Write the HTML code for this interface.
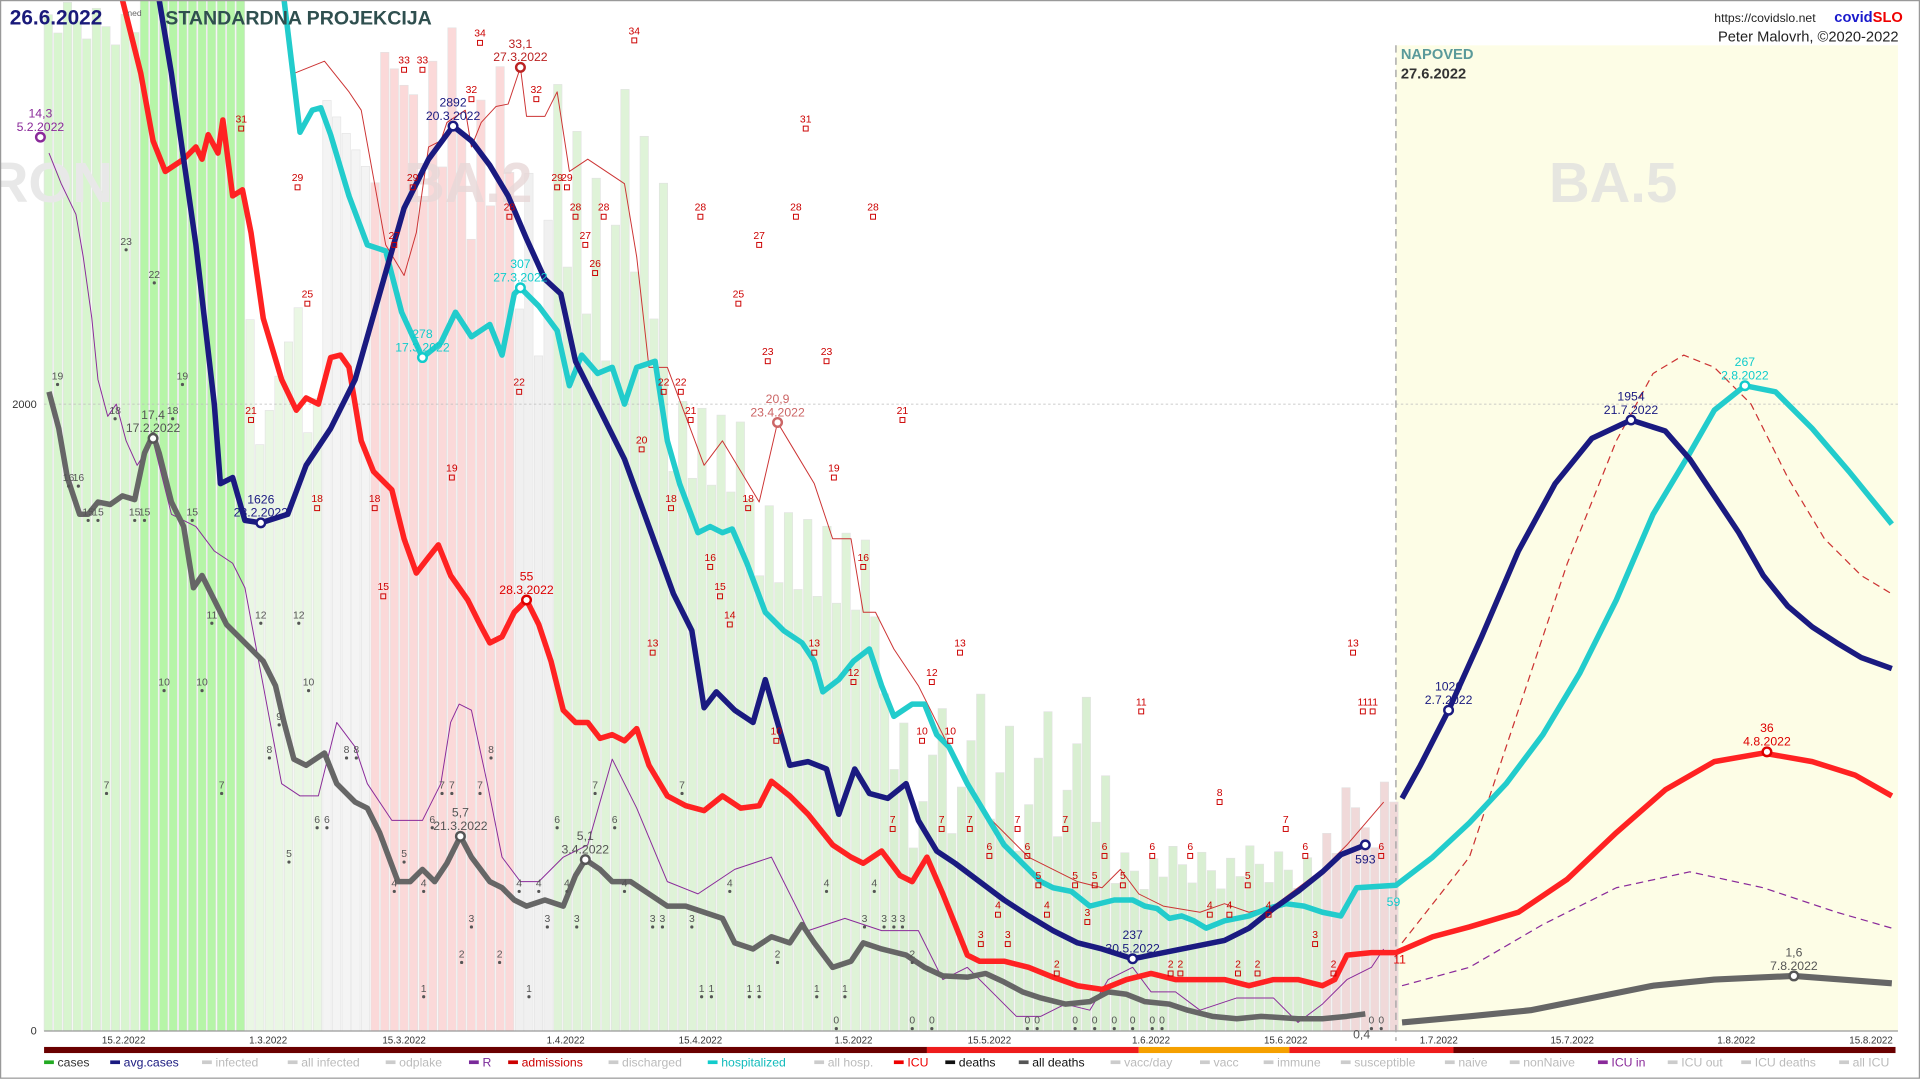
<!DOCTYPE html>
<html><head><meta charset="utf-8"><style>
html,body{margin:0;padding:0;background:#fff;width:1920px;height:1080px;overflow:hidden}
svg{display:block}
text{font-family:"Liberation Sans",sans-serif}
</style></head><body>
<svg id="s" width="1920" height="1080" viewBox="0 0 1568 882" preserveAspectRatio="none" xmlns="http://www.w3.org/2000/svg">
<rect x="0" y="0" width="1568" height="882" fill="#fff"/>
<rect x="1140" y="37" width="410" height="805" fill="#fdfde6"/>
<g id="bars"></g>
<text x="-10" y="165" font-size="46" font-weight="bold" fill="#e8e8e8">RON</text>
<text x="330" y="165" font-size="46" font-weight="bold" fill="#e8d8d8" opacity="0.8">BA.2</text>
<text x="1265" y="165" font-size="46" font-weight="bold" fill="#e6e6e0">BA.5</text>
<line x1="36" y1="330" x2="1550" y2="330" stroke="#bbb" stroke-width="0.6" stroke-dasharray="2,2"/>
<line x1="36" y1="842" x2="1550" y2="842" stroke="#999" stroke-width="1"/>
<line x1="1140" y1="37" x2="1140" y2="850" stroke="#aaa" stroke-width="1.2" stroke-dasharray="6,4"/>
<text x="10" y="333" font-size="9" fill="#333">2000</text>
<text x="25" y="845" font-size="9" fill="#333">0</text>
<g id="lines"></g>
<g id="labels" font-size="9"></g>
<text x="8" y="20" font-size="17" font-weight="bold" fill="#1a1a7a">26.6.2022</text>
<text x="104" y="13" font-size="7" fill="#666">ned</text>
<text x="135" y="20" font-size="16" font-weight="bold" fill="#2f4f4f">STANDARDNA PROJEKCIJA</text>
<text x="1400" y="18" font-size="10" fill="#222">https://covidslo.net</text>
<text x="1498" y="18" font-size="12" font-weight="bold" fill="#1a1acc">covid<tspan fill="#e00">SLO</tspan></text>
<text x="1403" y="34" font-size="12" fill="#222">Peter Malovrh, ©2020-2022</text>
<text x="1144" y="48" font-size="12" font-weight="bold" fill="#5a9a9a">NAPOVED</text>
<text x="1144" y="64" font-size="12" font-weight="bold" fill="#333">27.6.2022</text>
<g id="strip"></g>
<g id="legend" font-size="10"></g>
<rect x="0.5" y="0.5" width="1567" height="880" fill="none" stroke="#999"/>
</svg>
<script>
const NS="http://www.w3.org/2000/svg";
function el(p,t,a,txt){const e=document.createElementNS(NS,t);for(const k in a)e.setAttribute(k,a[k]);if(txt!==undefined)e.textContent=txt;document.getElementById(p).appendChild(e);return e;}
// bars
const W=7.85;
function barTop(x){
 if(x<110) return 0+((x*7)%40);
 if(x<195) return 0;
 if(x<260) return 250+((x*13)%130);
 if(x<330) return 40+((x*17)%120);
 if(x<420) return 0+((x*11)%200);
 if(x<545) return 60+((x*19)%260);
 if(x<720) return 280+(x-545)*1.0+((x*7)%120);
 if(x<900) return 560+((x*13)%140);
 if(x<1080) return 690+((x*7)%40);
 return 630+((x*11)%70);
}
function barCol(x){
 if(x<110) return "#d8f5cf";
 if(x<195) return "#b6f5a8";
 if(x<260) return "#eaf7e4";
 if(x<300) return "#f4f4f4";
 if(x<420) return "#fbd9d9";
 if(x<450) return "#f0f0f0";
 if(x<720) return "#dff3d8";
 if(x<1080) return "#d9efd2";
 return "#f0d9d9";
}
for(let x=36;x<1140;x+=W){
 const t=barTop(x);
 el("bars","rect",{x:x.toFixed(1),y:t,width:W-1,height:842-t,fill:barCol(x),stroke:"#e2e2e2","stroke-width":0.5});
}
function pl(pts,col,w,dash){el("lines","polyline",{points:pts.map(p=>p.join(",")).join(" "),fill:"none",stroke:col,"stroke-width":w,"stroke-linejoin":"round","stroke-dasharray":dash||""});}
// thin lines
pl([[240,60],[265,50],[285,75],[295,90],[315,200],[330,225],[340,190],[350,120],[360,115],[365,100],[380,90],[385,120],[393,100],[405,87],[415,85],[425,55],[430,95],[445,95],[455,75],[465,140],[480,130],[495,140],[510,150],[520,210],[530,300],[545,300],[560,340],[575,380],[590,360],[605,385],[620,410],[635,345],[650,370],[665,395],[680,440],[695,440],[705,500],[715,500],[730,530],[750,560],[775,610],[800,660],[820,680],[840,700],[860,710],[880,720],[900,725],[915,710],[930,730],[950,740],[980,745],[1000,738],[1020,745],[1040,740],[1060,725],[1080,710],[1100,690],[1130,655]],"#c33",0.8);
pl([[1145,770],[1200,700],[1240,580],[1280,460],[1320,360],[1350,305],[1375,290],[1400,300],[1430,330],[1460,390],[1490,440],[1520,470],[1545,485]],"#c33",1,"6,4");
pl([[40,125],[50,150],[62,175],[68,210],[75,260],[80,310],[88,340],[95,330],[103,360],[112,380],[125,360],[140,420],[160,430],[175,450],[190,460],[200,480],[215,560],[230,640],[245,650],[260,650],[275,590],[290,610],[300,640],[320,670],[345,670],[360,640],[368,590],[375,575],[385,580],[398,640],[410,700],[425,720],[440,720],[460,700],[480,690],[500,620],[520,660],[545,720],[570,730],[600,710],[630,700],[660,760],[690,750],[720,760],[750,760],[770,800],[790,790],[810,810],[830,830],[850,830],[870,820],[890,825],[905,800],[925,790],[940,810],[960,810],[980,825],[1010,815],[1040,815],[1060,835],[1080,820],[1100,800],[1120,790],[1130,775]],"#8a2a9a",0.8);
pl([[1145,805],[1200,790],[1260,755],[1320,725],[1380,712],[1440,725],[1500,745],[1545,758]],"#8a2a9a",1,"6,4");
// thick lines
pl([[40,320],[48,350],[55,390],[65,420],[72,420],[80,410],[90,412],[100,405],[110,408],[118,370],[125,355],[130,370],[140,410],[150,430],[158,480],[165,470],[175,490],[185,510],[195,520],[205,530],[215,540],[225,560],[232,590],[240,620],[250,625],[265,615],[275,640],[290,655],[300,660],[310,680],[325,720],[335,720],[345,710],[355,720],[365,705],[376,683],[385,700],[400,720],[410,725],[420,735],[430,740],[445,735],[460,740],[470,715],[478,702],[490,710],[500,720],[515,720],[530,730],[545,740],[560,740],[575,745],[590,750],[600,770],[615,775],[630,765],[645,770],[655,755],[665,770],[680,790],[695,785],[705,770],[720,775],[740,780],[755,790],[770,797],[790,798],[805,795],[820,802],[835,810],[850,815],[870,820],[890,818],[905,810],[920,812],[935,818],[955,820],[970,825],[990,830],[1010,832],[1030,830],[1060,832],[1080,832],[1100,830],[1115,828]],"#666",4.5);
pl([[1145,835],[1200,830],[1250,825],[1300,815],[1350,805],[1400,800],[1465,797],[1545,803]],"#666",5);
pl([[100,0],[115,60],[125,115],[135,140],[150,130],[160,120],[165,130],[170,110],[178,125],[182,98],[190,160],[198,155],[205,190],[215,260],[230,310],[242,335],[250,325],[260,330],[270,292],[278,290],[285,300],[295,360],[305,385],[320,400],[330,440],[340,468],[350,455],[358,445],[368,470],[382,490],[392,510],[400,525],[410,520],[420,500],[430,490],[440,510],[450,540],[460,580],[470,590],[480,590],[490,603],[500,600],[510,605],[520,595],[530,625],[545,650],[560,658],[575,662],[590,650],[605,660],[620,658],[630,638],[645,650],[660,665],[680,690],[695,700],[705,705],[720,695],[735,715],[745,720],[757,700],[770,730],[780,755],[790,780],[800,785],[820,785],[840,790],[860,798],[880,805],[900,808],[920,800],[940,795],[960,800],[980,800],[1000,800],[1020,805],[1040,800],[1060,800],[1080,805],[1090,800],[1100,780],[1120,778],[1140,778],[1170,765],[1200,757],[1240,745],[1280,718],[1320,680],[1360,645],[1400,622],[1440,615],[1480,622],[1515,633],[1545,650]],"#f22",4.5);
pl([[232,0],[238,50],[245,108],[255,90],[262,88],[270,110],[285,160],[300,200],[315,205],[328,255],[345,292],[360,280],[372,255],[385,275],[400,265],[410,290],[420,240],[425,235],[440,250],[455,270],[465,315],[475,290],[488,305],[500,300],[510,330],[520,300],[535,295],[545,360],[555,395],[570,435],[580,430],[590,435],[598,432],[610,460],[625,500],[640,515],[655,525],[665,540],[672,565],[685,555],[697,540],[710,530],[720,560],[730,585],[745,575],[755,575],[765,600],[775,610],[790,640],[805,665],[820,690],[835,705],[850,720],[860,725],[875,728],[890,740],[910,735],[925,735],[935,740],[945,742],[955,750],[965,748],[975,752],[985,758],[1000,752],[1020,748],[1035,742],[1050,738],[1065,740],[1080,745],[1095,748],[1108,725],[1140,723],[1170,700],[1200,672],[1230,640],[1260,600],[1290,550],[1320,490],[1350,420],[1380,370],[1400,335],[1425,315],[1450,320],[1480,350],[1510,385],[1545,428]],"#22cccc",4.5);
pl([[130,0],[140,60],[160,200],[175,330],[180,395],[190,390],[200,425],[213,427],[235,420],[250,380],[270,350],[290,310],[310,240],[330,170],[350,130],[370,103],[385,115],[400,135],[415,160],[430,195],[445,228],[458,240],[470,295],[490,335],[510,375],[530,430],[550,485],[565,515],[575,578],[585,565],[600,580],[615,590],[625,555],[635,590],[645,625],[660,622],[675,628],[685,665],[698,628],[710,648],[725,652],[740,640],[750,670],[765,695],[780,705],[800,720],[820,735],[840,748],[860,760],[880,770],[900,775],[925,783],[950,778],[975,773],[1000,768],[1020,758],[1040,742],[1060,728],[1080,712],[1095,698],[1115,690]],"#1a1a80",4.5);
pl([[1145,652],[1160,625],[1183,580],[1210,520],[1240,450],[1270,395],[1300,358],[1332,343],[1360,352],[1380,375],[1400,405],[1420,435],[1440,470],[1460,495],[1480,512],[1500,525],[1520,537],[1545,546]],"#1a1a80",4.5);
// markers & annotations
function mk(x,y,c){el("lines","circle",{cx:x,cy:y,r:3.5,fill:"#fff",stroke:c,"stroke-width":2});}
function tx(x,y,s,c,fs){el("labels","text",{x:x,y:y,fill:c,"text-anchor":"middle","font-size":fs||10},s);}
const A=[[370,103,"2892","20.3.2022","#1a1a80"],[213,427,"1626","28.2.2022","#1a1a80"],[925,783,"237","30.5.2022","#1a1a80"],[1115,690,"593","","#1a1a80"],[1183,580,"1026","2.7.2022","#1a1a80"],[1332,343,"1954","21.7.2022","#1a1a80"],
[425,235,"307","27.3.2022","#1cc"],[345,292,"278","17.3.2022","#1cc"],[1425,315,"267","2.8.2022","#1cc"],[430,490,"55","28.3.2022","#d00"],[1443,614,"36","4.8.2022","#d00"],
[125,358,"17,4","17.2.2022","#555"],[376,683,"5,7","21.3.2022","#555"],[478,702,"5,1","3.4.2022","#555"],[1465,797,"1,6","7.8.2022","#555"],[33,112,"14,3","5.2.2022","#8a2a9a"],[425,55,"33,1","27.3.2022","#b22"],[635,345,"20,9","23.4.2022","#c66"]];
for(const a of A){mk(a[0],a[1],a[4]);if(a[3]){tx(a[0],a[1]-16,a[2],a[4]);tx(a[0],a[1]-5,a[3],a[4]);}else tx(a[0],a[1]+15,a[2],a[4]);}
tx(1138,740,"59","#1cc");tx(1143,787,"11","#d00");tx(1112,848,"0,4","#555");
// small red ICU-in labels
const R=[[197,100,31],[243,148,29],[251,243,25],[205,338,21],[259,410,18],[306,410,18],[313,482,15],[330,52,33],[345,52,33],[392,30,34],[385,76,32],[438,76,32],[337,148,29],[322,195,27],[416,172,28],[455,148,29],[463,148,29],[470,172,28],[493,172,28],[478,195,27],[486,218,26],[518,28,34],[424,315,22],[542,315,22],[556,315,22],[564,338,21],[524,362,20],[572,172,28],[650,172,28],[713,172,28],[620,195,27],[603,243,25],[627,290,23],[675,290,23],[658,100,31],[737,338,21],[369,385,19],[681,385,19],[548,410,18],[611,410,18],[580,458,16],[705,458,16],[588,482,15],[596,505,14],[533,528,13],[665,528,13],[784,528,13],[1105,528,13],[761,552,12],[697,552,12],[932,576,11],[1113,576,11],[1121,576,11],[753,600,10],[776,600,10],[634,600,10],[729,672,7],[769,672,7],[792,672,7],[831,672,7],[870,672,7],[1050,672,7],[808,694,6],[839,694,6],[902,694,6],[941,694,6],[972,694,6],[1066,694,6],[1128,694,6],[848,718,5],[878,718,5],[894,718,5],[917,718,5],[1019,718,5],[815,742,4],[855,742,4],[988,742,4],[1004,742,4],[1036,742,4],[888,748,3],[1074,766,3],[801,766,3],[823,766,3],[863,790,2],[956,790,2],[964,790,2],[1011,790,2],[1027,790,2],[1089,790,2],[996,650,8]];
for(const r of R){tx(r[0],r[1],r[2],"#c00",8.5);el("labels","rect",{x:r[0]-2,y:r[1]+3,width:4,height:4,fill:"none",stroke:"#c00","stroke-width":0.8});}
// gray death labels
const G=[[47,310,19],[103,200,23],[126,227,22],[149,310,19],[94,338,18],[141,338,18],[56,393,16],[64,393,16],[72,421,15],[80,421,15],[110,421,15],[118,421,15],[157,421,15],[173,505,11],[213,505,12],[244,505,12],[134,560,10],[165,560,10],[252,560,10],[228,588,9],[220,615,8],[283,615,8],[291,615,8],[401,615,8],[87,644,7],[181,644,7],[361,644,7],[369,644,7],[392,644,7],[486,644,7],[557,644,7],[259,672,6],[267,672,6],[353,672,6],[455,672,6],[502,672,6],[236,700,5],[330,700,5],[322,724,4],[346,724,4],[424,724,4],[440,724,4],[463,724,4],[510,724,4],[596,724,4],[675,724,4],[714,724,4],[385,753,3],[447,753,3],[471,753,3],[533,753,3],[541,753,3],[565,753,3],[706,753,3],[722,753,3],[730,753,3],[737,753,3],[377,782,2],[408,782,2],[635,782,2],[745,782,2],[346,810,1],[432,810,1],[573,810,1],[581,810,1],[612,810,1],[620,810,1],[667,810,1],[690,810,1],[683,836,0],[745,836,0],[761,836,0],[839,836,0],[847,836,0],[878,836,0],[894,836,0],[910,836,0],[925,836,0],[941,836,0],[949,836,0],[1120,836,0],[1128,836,0]];
for(const g of G){tx(g[0],g[1],g[2],"#555",8.5);el("labels","circle",{cx:g[0],cy:g[1]+4,r:1.3,fill:"#555"});}
// x axis dates
const D=[[101,"15.2.2022"],[219,"1.3.2022"],[330,"15.3.2022"],[462,"1.4.2022"],[572,"15.4.2022"],[697,"1.5.2022"],[808,"15.5.2022"],[940,"1.6.2022"],[1050,"15.6.2022"],[1175,"1.7.2022"],[1284,"15.7.2022"],[1418,"1.8.2022"],[1528,"15.8.2022"]];
for(const d of D){tx(d[0],852,d[1],"#333",8);}
// strip
const S=[[36,757,"#6a0000"],[757,930,"#ee1c1c"],[930,1053,"#f5a000"],[1053,1187,"#ee1c1c"],[1187,1548,"#6a0000"]];
for(const s of S){el("strip","rect",{x:s[0],y:855,width:s[1]-s[0],height:5,fill:s[2]});}
// legend
const L=[[36,"cases","#333","#2a2"],[90,"avg.cases","#1a1a80","#1a1a80"],[165,"infected","#bbb","#ccc"],[235,"all infected","#bbb","#ccc"],[315,"odplake","#bbb","#ccc"],[383,"R","#7a2a9a","#7a2a9a"],[415,"admissions","#c00","#c00"],[497,"discharged","#bbb","#ccc"],[578,"hospitalized","#1bb","#1cc"],[665,"all hosp.","#bbb","#ccc"],[730,"ICU","#e00","#e00"],[772,"deaths","#111","#111"],[832,"all deaths","#111","#555"],[907,"vacc/day","#bbb","#ccc"],[980,"vacc","#bbb","#ccc"],[1032,"immune","#bbb","#ccc"],[1095,"susceptible","#bbb","#ccc"],[1180,"naive","#bbb","#ccc"],[1233,"nonNaive","#bbb","#ccc"],[1305,"ICU in","#8a2a9a","#8a2a9a"],[1362,"ICU out","#bbb","#ccc"],[1422,"ICU deaths","#bbb","#ccc"],[1502,"all ICU","#bbb","#ccc"]];
for(const l of L){el("legend","rect",{x:l[0],y:866,width:8,height:3,fill:l[3]});el("legend","text",{x:l[0]+11,y:871,fill:l[2]},l[1]);}
</script>
</body></html>
